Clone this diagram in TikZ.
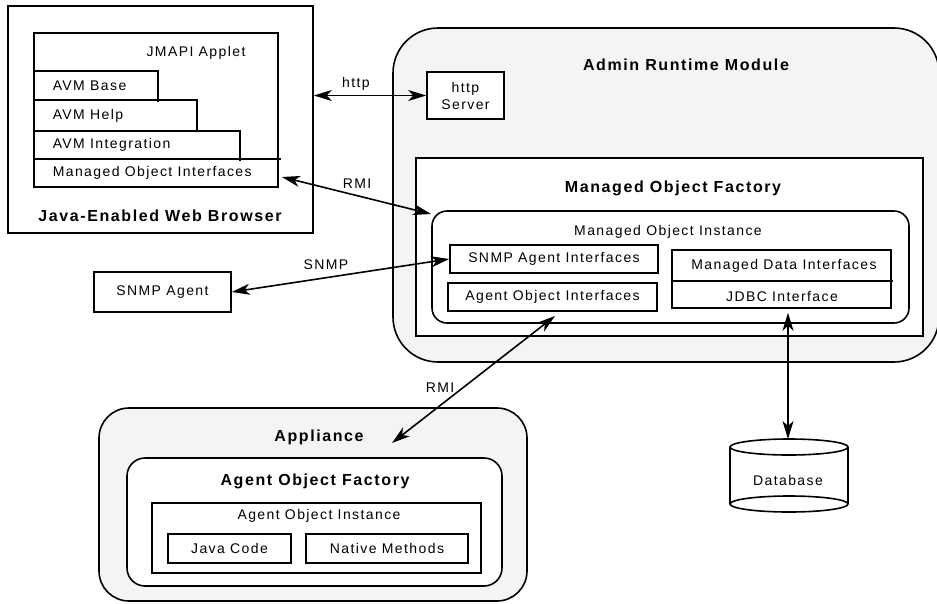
\documentclass[tikz,border=0pt]{standalone}
\usepackage{fontspec}
\setmainfont{Liberation Sans}[LetterSpace=10]
\usetikzlibrary{arrows.meta,calc}
\definecolor{panel}{HTML}{F4F4F4}
\begin{document}
\begin{tikzpicture}[x=1pt,y=-1pt,line width=1.6pt,
  box/.style={draw,fill=white,inner sep=0pt},
  lbl/.style={font=\fontsize{14}{16}\selectfont,inner sep=0pt},
  ttl/.style={font=\bfseries\fontsize{16}{19}\selectfont,inner sep=0pt},
  conn/.style={{Stealth[length=18pt,width=11pt,inset=5pt]}-{Stealth[length=18pt,width=11pt,inset=5pt]},line width=1.6pt}]
\useasboundingbox (0,0) rectangle (937,603);

% ---------- Browser ----------
\node[box,minimum width=305pt,minimum height=227pt] (browser) at (160.5,119.5) {};
\node[box,minimum width=244pt,minimum height=154pt] (applet) at (156,110) {};
\node[lbl] (applettitle) at (196,53) {JMAPI Applet};
\draw (34,71) -- (158,71) -- (158,102);
\draw (34,100) -- (197,100) -- (197,132);
\draw (34,131) -- (240,131) -- (240,161);
\draw (34,159) -- (281,159);
\node[lbl,anchor=west] (avmbase) at (52,86) {AVM Base};
\node[lbl,anchor=west] (avmhelp) at (52,116) {AVM Help};
\node[lbl,anchor=west] (avmint) at (52,145) {AVM Integration};
\node[lbl,anchor=west] (moif) at (52,173) {Managed Object Interfaces};
\node[ttl] (browsertitle) at (160,216) {Java-Enabled Web Browser};

% ---------- Admin Runtime Module ----------
\node[draw,fill=panel,rounded corners=45pt,minimum width=546pt,minimum height=334pt,inner sep=0pt] (admin) at (666,195) {};
\node[ttl] (admintitle) at (686,65) {Admin Runtime Module};
\node[box,minimum width=77pt,minimum height=47pt,align=center,font=\fontsize{14}{17}\selectfont] (httpsrv) at (465.5,95.5) {http\\Server};
\node[box,minimum width=507pt,minimum height=178pt] (mof) at (669.5,247) {};
\node[ttl] (moftitle) at (673,188) {Managed Object Factory};
\node[box,rounded corners=15pt,minimum width=477pt,minimum height=112pt] (moi) at (670.5,267) {};
\node[lbl] (moititle) at (668,232) {Managed Object Instance};
\node[box,lbl,minimum width=208pt,minimum height=28pt] (snmpif) at (554,259) {SNMP Agent Interfaces};
\node[box,lbl,minimum width=209pt,minimum height=28pt] (agentif) at (552.5,297) {Agent Object Interfaces};
\node[box,minimum width=219pt,minimum height=58pt] (mdi) at (781.5,279) {};
\draw (672,281) -- (893,281);
\node[lbl] (mditext) at (784,266) {Managed Data Interfaces};
\node[lbl] (jdbctext) at (782,296) {JDBC Interface};

% ---------- SNMP Agent ----------
\node[box,lbl,minimum width=137pt,minimum height=40pt] (snmpagent) at (162.5,292) {SNMP Agent};

% ---------- Appliance ----------
\node[draw,fill=panel,rounded corners=30pt,minimum width=428pt,minimum height=193pt,inner sep=0pt] (appliance) at (313,504.5) {};
\node[ttl] (appliancetitle) at (319,437) {Appliance};
\node[box,rounded corners=18pt,minimum width=375pt,minimum height=128pt] (aof) at (314.5,522) {};
\node[ttl] (aoftitle) at (315,481) {Agent Object Factory};
\node[box,minimum width=329pt,minimum height=70pt] (aoi) at (316.5,538) {};
\node[lbl] (aoititle) at (319,516) {Agent Object Instance};
\node[box,lbl,minimum width=123pt,minimum height=29pt] (java) at (229.5,548.5) {Java Code};
\node[box,lbl,minimum width=162pt,minimum height=29pt] (native) at (387,548.5) {Native Methods};

% ---------- Database ----------
\fill[white] (730,447) rectangle (848,504);
\draw (730,447) -- (730,504);
\draw (848,447) -- (848,504);
\draw (789,504) ellipse [x radius=59pt,y radius=8pt];
\draw[fill=white] (789,447) ellipse [x radius=59pt,y radius=8pt];
\node[lbl] (dbtext) at (788,480) {Database};
\coordinate (dbtop) at (788,439);

% ---------- Connectors ----------
\coordinate (rmiA) at (282,177);
\coordinate (rmiB) at (431,214);
\coordinate (rmiC) at (555,316);
\coordinate (rmiD) at (392,443);
\draw[conn] (browser.east |- httpsrv.west) -- (httpsrv.west);
\node[lbl] (httplbl) at (356,84) {http};
\draw[conn] (rmiA) -- (rmiB);
\node[lbl] (rmilbl1) at (357,184) {RMI};
\draw[conn] (snmpagent.east) -- (snmpif.west);
\node[lbl] (snmplbl) at (326,265) {SNMP};
\draw[conn] (rmiC) -- (rmiD);
\node[lbl] (rmilbl2) at (440,388) {RMI};
\draw[conn] (mdi.south -| dbtop) ++(0,4) -- (dbtop);
\end{tikzpicture}
\end{document}
